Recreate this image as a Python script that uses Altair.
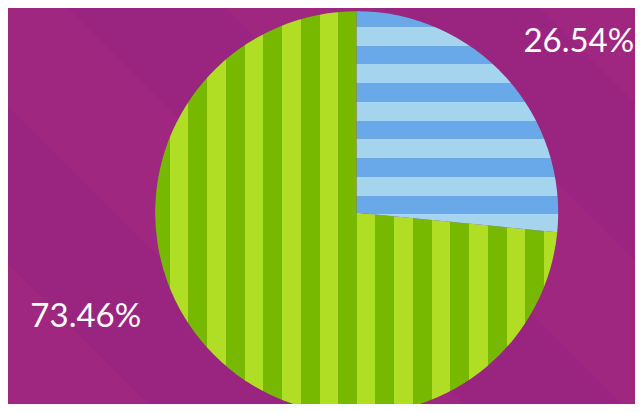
import math
import altair as alt
import pandas as pd

# ---- data ----
categories = ["Blue", "Green"]
values = [26.54, 73.46]
labels = ["26.54%", "73.46%"]

# ---- layout / style ----
W, H = 627, 396
CX, CY, R = 348.7, 204.7, 201.5
BG_LIGHT, BG_DARK = "#9F2780", "#9A2580"
BLUE_DARK, BLUE_LIGHT = "#6AA9E9", "#A4D4EE"
GREEN_DARK, GREEN_LIGHT = "#76B900", "#B0DE25"


def stripe_stops(lo, hi, phase, period, width, on, off):
    def col(p):
        return on if ((p - phase) % period) < width else off
    stops = [alt.GradientStop(offset=0, color=col(lo + 0.01))]
    edges = []
    k = math.floor((lo - phase) / period) - 1
    while True:
        a = phase + k * period
        if a > hi:
            break
        for e in (a, a + width):
            if lo < e < hi:
                edges.append(e)
        k += 1
    for e in sorted(edges):
        f = (e - lo) / (hi - lo)
        stops.append(alt.GradientStop(offset=f, color=col(e - 0.01)))
        stops.append(alt.GradientStop(offset=f, color=col(e + 0.01)))
    stops.append(alt.GradientStop(offset=1, color=col(hi - 0.01)))
    return stops


total = sum(values)
tb = 2 * math.pi * values[0] / total

# blue slice: horizontal stripes (gradient along y of its bounding box)
b_lo = CY - R
b_hi = CY + max(0.0, -R * math.cos(tb))
blue_grad = alt.LinearGradient(
    gradient="linear", x1=0, y1=0, x2=0, y2=1,
    stops=stripe_stops(b_lo, b_hi, 0.2, 37.5, 18.5, BLUE_DARK, BLUE_LIGHT),
)

# green slice: vertical stripes (gradient along x of its bounding box)
g_lo = CX - R
g_hi = CX + (R if tb < math.pi / 2 else R * math.sin(tb))
green_grad = alt.LinearGradient(
    gradient="linear", x1=0, y1=0, x2=1, y2=0,
    stops=stripe_stops(g_lo, g_hi, 180.3, 37.42, 19, GREEN_DARK, GREEN_LIGHT),
)

# background: diagonal bands along x - y
kk = (W + H) / (W * W + H * H)
bg_grad = alt.LinearGradient(
    gradient="linear", x1=0, y1=1, x2=kk * W, y2=1 - kk * H,
    stops=stripe_stops(-H, W, 60, 315, 157.5, BG_DARK, BG_LIGHT),
)

df = pd.DataFrame({"cat": categories, "value": values, "label": labels,
                   "order": [0, 1]})

theta_scale = alt.Scale(domain=[0, total], range=[0, 2 * math.pi])

background = alt.Chart(pd.DataFrame({"a": [0]})).mark_rect(
    fill=bg_grad
).encode(
    x=alt.value(0), x2=alt.value(W), y=alt.value(0), y2=alt.value(H)
)

base = alt.Chart(df).transform_stack(
    stack="value", groupby=[], as_=["v0", "v1"],
    sort=[alt.SortField("order", order="ascending")]
)

blue = base.transform_filter(alt.datum.cat == "Blue").mark_arc(
    radius=R, fill=blue_grad
).encode(
    theta=alt.Theta("v0:Q", scale=theta_scale),
    theta2="v1:Q",
    x=alt.value(CX), y=alt.value(CY),
)

green = base.transform_filter(alt.datum.cat == "Green").mark_arc(
    radius=R, fill=green_grad
).encode(
    theta=alt.Theta("v0:Q", scale=theta_scale),
    theta2="v1:Q",
    x=alt.value(CX), y=alt.value(CY),
)

text_base = base.transform_calculate(mid="(datum.v0 + datum.v1) / 2")
text_style = dict(radius=250, baseline="alphabetic", align="center",
                  font="Lato", fontSize=33, color="#FFFFFF")

t1 = text_base.transform_filter(alt.datum.cat == "Blue").mark_text(
    dx=37.0, dy=7.0, **text_style
).encode(
    theta=alt.Theta("mid:Q", scale=theta_scale),
    text="label:N",
    x=alt.value(CX), y=alt.value(CY),
)

t2 = text_base.transform_filter(alt.datum.cat == "Green").mark_text(
    dx=-85.8, dy=-54.0, **text_style
).encode(
    theta=alt.Theta("mid:Q", scale=theta_scale),
    text="label:N",
    x=alt.value(CX), y=alt.value(CY),
)

chart = alt.layer(background, green, blue, t1, t2).properties(
    width=W, height=H, padding=0,
    autosize=alt.AutoSizeParams(type="fit", contains="padding"),
).configure(background=BG_LIGHT).configure_view(stroke="transparent")

chart.save("out.html", embed_options={"renderer": "svg", "actions": False})
